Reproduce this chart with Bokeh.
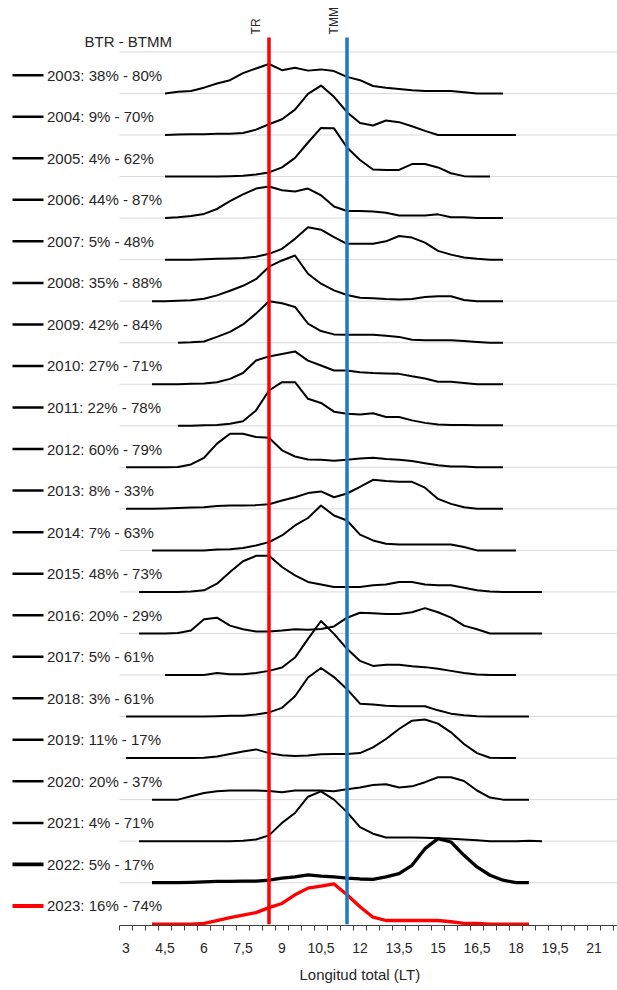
import math
from bokeh.plotting import figure
from bokeh.models import Range1d, FixedTicker, ColumnDataSource, Title
from bokeh.core.properties import value
from bokeh.embed import file_html
from bokeh.resources import INLINE

# ---------------- data ----------------
years = list(range(2003, 2024))
btr = [38, 9, 4, 44, 5, 35, 42, 27, 22, 60, 8, 7, 48, 20, 5, 3, 11, 20, 4, 5, 16]
btmm = [80, 70, 62, 87, 48, 88, 84, 71, 78, 79, 33, 63, 73, 29, 61, 61, 17, 37, 71, 17, 74]
# first length class (LT) of each year's distribution; classes every 0.5
starts = [4.5, 4.5, 4.5, 4.5, 4.5, 4, 5, 4, 5, 3, 3, 4, 3.5, 3.5, 4.5, 3, 3, 4, 3.5, 4, 4]
STEP = 0.5

f2003 = [0, 0.04, 0.06, 0.14, 0.24, 0.32, 0.49, 0.60, 0.71, 0.56, 0.62, 0.55, 0.58, 0.54, 0.40,
         0.32, 0.18, 0.14, 0.11, 0.08, 0.06, 0.06, 0.06, 0.03, 0, 0, 0]
f2004 = [0, 0.01, 0.02, 0.02, 0.03, 0.03, 0.05, 0.13, 0.26, 0.38, 0.61, 0.99, 1.19, 0.92, 0.55,
         0.29, 0.23, 0.35, 0.31, 0.21, 0.10, 0, 0, 0, 0, 0, 0, 0]
f2005 = [0, 0, 0, 0, 0, 0.01, 0.02, 0.05, 0.10, 0.22, 0.45, 0.82, 1.17, 1.16, 0.70, 0.40, 0.17,
         0.16, 0.16, 0.30, 0.30, 0.22, 0.08, 0.01, 0, 0]
f2006 = [0, 0.02, 0.05, 0.10, 0.22, 0.41, 0.57, 0.71, 0.76, 0.67, 0.64, 0.71, 0.55, 0.28, 0.17,
         0.17, 0.16, 0.13, 0.06, 0.06, 0.06, 0.09, 0.02, 0.02, 0, 0, 0]
f2007 = [0, 0, 0, 0.01, 0.02, 0.03, 0.04, 0.07, 0.14, 0.26, 0.50, 0.78, 0.72, 0.54, 0.38, 0.38,
         0.38, 0.44, 0.57, 0.53, 0.41, 0.21, 0.12, 0.05, 0.02, 0, 0]
f2008 = [0, 0, 0.01, 0.02, 0.06, 0.14, 0.25, 0.37, 0.53, 0.83, 0.98, 1.10, 0.66, 0.42, 0.26, 0.15,
         0.08, 0.07, 0.05, 0.04, 0.05, 0.10, 0.12, 0.12, 0.03, 0, 0, 0]
f2009 = [0, 0.01, 0.03, 0.14, 0.26, 0.44, 0.70, 1.00, 0.95, 0.86, 0.46, 0.28, 0.20, 0.19, 0.19,
         0.19, 0.17, 0.14, 0.07, 0.06, 0.06, 0.06, 0.04, 0.02, 0, 0]
f2010 = [0, 0, 0, 0.01, 0.02, 0.05, 0.13, 0.27, 0.57, 0.67, 0.73, 0.79, 0.57, 0.45, 0.33, 0.33,
         0.29, 0.27, 0.26, 0.25, 0.19, 0.14, 0.06, 0.06, 0.03, 0, 0, 0]
f2011 = [0, 0, 0.01, 0.02, 0.05, 0.11, 0.37, 0.85, 1.05, 1.05, 0.65, 0.55, 0.34, 0.29, 0.27, 0.30,
         0.21, 0.21, 0.13, 0.07, 0.03, 0.02, 0.02, 0.01, 0.01, 0.01]
f2012 = [0, 0, 0, 0, 0.01, 0.07, 0.23, 0.57, 0.81, 0.81, 0.73, 0.71, 0.41, 0.26, 0.19, 0.18, 0.16,
         0.18, 0.21, 0.23, 0.20, 0.18, 0.15, 0.10, 0.05, 0.02, 0.02, 0, 0, 0]
f2013 = [0, 0, 0, 0.01, 0.02, 0.03, 0.04, 0.07, 0.08, 0.08, 0.09, 0.11, 0.20, 0.28, 0.38, 0.42,
         0.28, 0.37, 0.53, 0.70, 0.67, 0.65, 0.65, 0.51, 0.24, 0.12, 0.04, 0, 0, 0]
f2014 = [0, 0, 0, 0, 0, 0.02, 0.03, 0.06, 0.12, 0.20, 0.36, 0.60, 0.78, 1.08, 0.84, 0.72, 0.38,
         0.24, 0.16, 0.14, 0.14, 0.14, 0.14, 0.14, 0.08, 0, 0, 0, 0]
f2015 = [0, 0, 0, 0, 0.01, 0.04, 0.20, 0.48, 0.74, 0.87, 0.87, 0.60, 0.40, 0.24, 0.18, 0.12, 0.12,
         0.12, 0.16, 0.18, 0.24, 0.24, 0.18, 0.16, 0.16, 0.10, 0.04, 0.01, 0, 0, 0, 0]
f2016 = [0, 0, 0, 0.01, 0.07, 0.34, 0.38, 0.19, 0.10, 0.05, 0.05, 0.07, 0.10, 0.09, 0.11, 0.17,
         0.38, 0.50, 0.49, 0.47, 0.47, 0.51, 0.61, 0.51, 0.38, 0.19, 0.10, 0, 0, 0, 0, 0]
f2017 = [0, 0, 0, 0, 0.05, 0.02, 0.02, 0.05, 0.10, 0.18, 0.42, 0.87, 1.30, 0.99, 0.63, 0.34, 0.22,
         0.25, 0.25, 0.21, 0.19, 0.15, 0.10, 0.05, 0.01, 0, 0, 0]
f2018 = [0, 0, 0, 0, 0, 0, 0, 0.01, 0.02, 0.02, 0.05, 0.10, 0.21, 0.49, 0.94, 1.17, 0.95, 0.66,
         0.31, 0.29, 0.26, 0.25, 0.25, 0.25, 0.15, 0.07, 0.03, 0.01, 0, 0, 0, 0]
f2019 = [0, 0, 0, 0, 0, 0, 0.01, 0.04, 0.10, 0.16, 0.21, 0.12, 0.07, 0.05, 0.06, 0.09, 0.10, 0.10,
         0.12, 0.26, 0.46, 0.70, 0.90, 0.93, 0.83, 0.62, 0.34, 0.12, 0.01, 0, 0]
f2020 = [0, 0, 0, 0.08, 0.16, 0.20, 0.22, 0.22, 0.22, 0.21, 0.18, 0.22, 0.22, 0.22, 0.20, 0.25,
         0.29, 0.35, 0.37, 0.29, 0.32, 0.42, 0.54, 0.54, 0.45, 0.22, 0.05, 0, 0, 0]
f2021 = [0, 0, 0, 0, 0, 0, 0, 0, 0.01, 0.04, 0.14, 0.44, 0.68, 1.07, 1.20, 1.00, 0.70, 0.34, 0.18,
         0.09, 0.09, 0.09, 0.08, 0.07, 0.06, 0.04, 0.02, 0, 0, 0, 0.01, 0]
f2022 = [0, 0, 0, 0.01, 0.02, 0.03, 0.03, 0.04, 0.04, 0.06, 0.11, 0.14, 0.19, 0.16, 0.14, 0.11,
         0.09, 0.08, 0.14, 0.22, 0.42, 0.82, 1.06, 0.98, 0.66, 0.38, 0.18, 0.06, 0, 0]
f2023 = [0, 0, 0, 0, 0.02, 0.09, 0.16, 0.22, 0.28, 0.40, 0.50, 0.71, 0.87, 0.92, 0.97, 0.71, 0.42,
         0.17, 0.09, 0.09, 0.09, 0.09, 0.09, 0.06, 0.02, 0.02, 0, 0, 0, 0]

freqs = [f2003, f2004, f2005, f2006, f2007, f2008, f2009, f2010, f2011, f2012, f2013,
         f2014, f2015, f2016, f2017, f2018, f2019, f2020, f2021, f2022, f2023]

TR = 8.5      # talla de reclutamiento
TMM = 11.5    # talla media de madurez
ref_values = [TR, TMM]
ref_names = ["TR", "TMM"]

tick_values = [3, 4.5, 6, 7.5, 9, 10.5, 12, 13.5, 15, 16.5, 18, 19.5, 21]
tick_labels = ["3", "4,5", "6", "7,5", "9", "10,5", "12", "13,5", "15", "16,5", "18", "19,5", "21"]

# ---------------- layout / style ----------------
FONT = "Liberation Sans"
TXT = "#262626"
PXU = 26.0                      # pixels per cm on x
PYU = 41.55                     # pixels per row on y
FW = 617
Y_BOTTOM = -0.03
Y_TOP = 924 / PYU
FH = int(round((Y_TOP - Y_BOTTOM) * PYU))
X_LEFT = 3 - 125.5 / PXU
X_RIGHT = X_LEFT + FW / PXU
AX_START = 2.75
LINE_TOP = 21.35


def px_x(px):
    return X_LEFT + px / PXU


def px_y(py):
    return Y_TOP - py / PYU


p = figure(frame_width=FW, frame_height=FH,
           x_range=Range1d(X_LEFT, X_RIGHT), y_range=Range1d(Y_BOTTOM, Y_TOP),
           output_backend="svg", toolbar_location=None, y_axis_location=None,
           min_border=0, outline_line_color=None,
           background_fill_color="white", border_fill_color="white")
p.grid.visible = False

n = len(years)
rows = [2023 - y for y in years]

# horizontal baselines (light grid)
grid_rows = list(range(1, n + 1))
p.segment(x0=AX_START, x1=X_RIGHT, y0=grid_rows, y1=grid_rows,
          line_color="#d9d9d9", line_width=1)

# curves
xs, ys, colors, widths = [], [], [], []
for yr, r, s, f in zip(years, rows, starts, freqs):
    xs.append([s + STEP * i for i in range(len(f))])
    ys.append([r + v for v in f])
    if yr == 2023:
        colors.append("#ff0000"); widths.append(3.3)
    elif yr == 2022:
        colors.append("#000000"); widths.append(3.3)
    else:
        colors.append("#000000"); widths.append(2.0)

src = ColumnDataSource(dict(xs=xs, ys=ys, color=colors, width=widths))
p.multi_line(xs="xs", ys="ys", line_color="color", line_width="width",
             line_join="round", source=src)

# reference lines TR / TMM
p.segment(x0=ref_values, x1=ref_values, y0=[0, 0], y1=[LINE_TOP, LINE_TOP],
          line_color=["#ff0000", "#1f78c4"], line_width=3.5)
p.text(x=ref_values, y=[LINE_TOP, LINE_TOP], text=ref_names, angle=math.pi / 2,
       text_align="left", text_baseline="bottom", x_offset=-6, y_offset=-3,
       text_font=value(FONT), text_font_size="12px", text_color=TXT)

# legend-like labels on the left
labels = [f"{y}: {a}% - {b}%" for y, a, b in zip(years, btr, btmm)]
ly = [r + 0.44 for r in rows]
p.segment(x0=px_x(12), x1=px_x(43), y0=ly, y1=ly, line_color=colors,
          line_width=[w + 0.5 for w in widths])
p.text(x=px_x(46.5), y=ly, text=labels, text_align="left", text_baseline="middle",
       text_font=value(FONT), text_font_size="15px", text_color=TXT)
p.text(x=[px_x(84)], y=[px_y(41)], text=["BTR - BTMM"], text_align="left",
       text_baseline="middle", text_font=value(FONT), text_font_size="15px",
       text_color=TXT)

# x axis
ax = p.xaxis[0]
ax.ticker = FixedTicker(ticks=tick_values,
                        minor_ticks=[AX_START + 0.5 * i for i in range(39)])
ax.bounds = (AX_START, X_RIGHT)
ax.major_label_overrides = {t: l for t, l in zip(tick_values, tick_labels)}
ax.axis_line_color = "#404040"
ax.major_tick_in = 0
ax.major_tick_out = 0
ax.minor_tick_in = 0
ax.minor_tick_out = 5
ax.minor_tick_line_color = "#404040"
ax.major_label_standoff = 12
ax.major_label_text_font = FONT
ax.major_label_text_font_size = "14px"
ax.major_label_text_color = TXT

title = Title(text="Longitud total (LT)", align="left", offset=299,
              text_font=FONT, text_font_size="15px", text_font_style="normal",
              text_color=TXT, standoff=17)
p.add_layout(title, "below")

open("out.html", "w").write(file_html(p, INLINE))
